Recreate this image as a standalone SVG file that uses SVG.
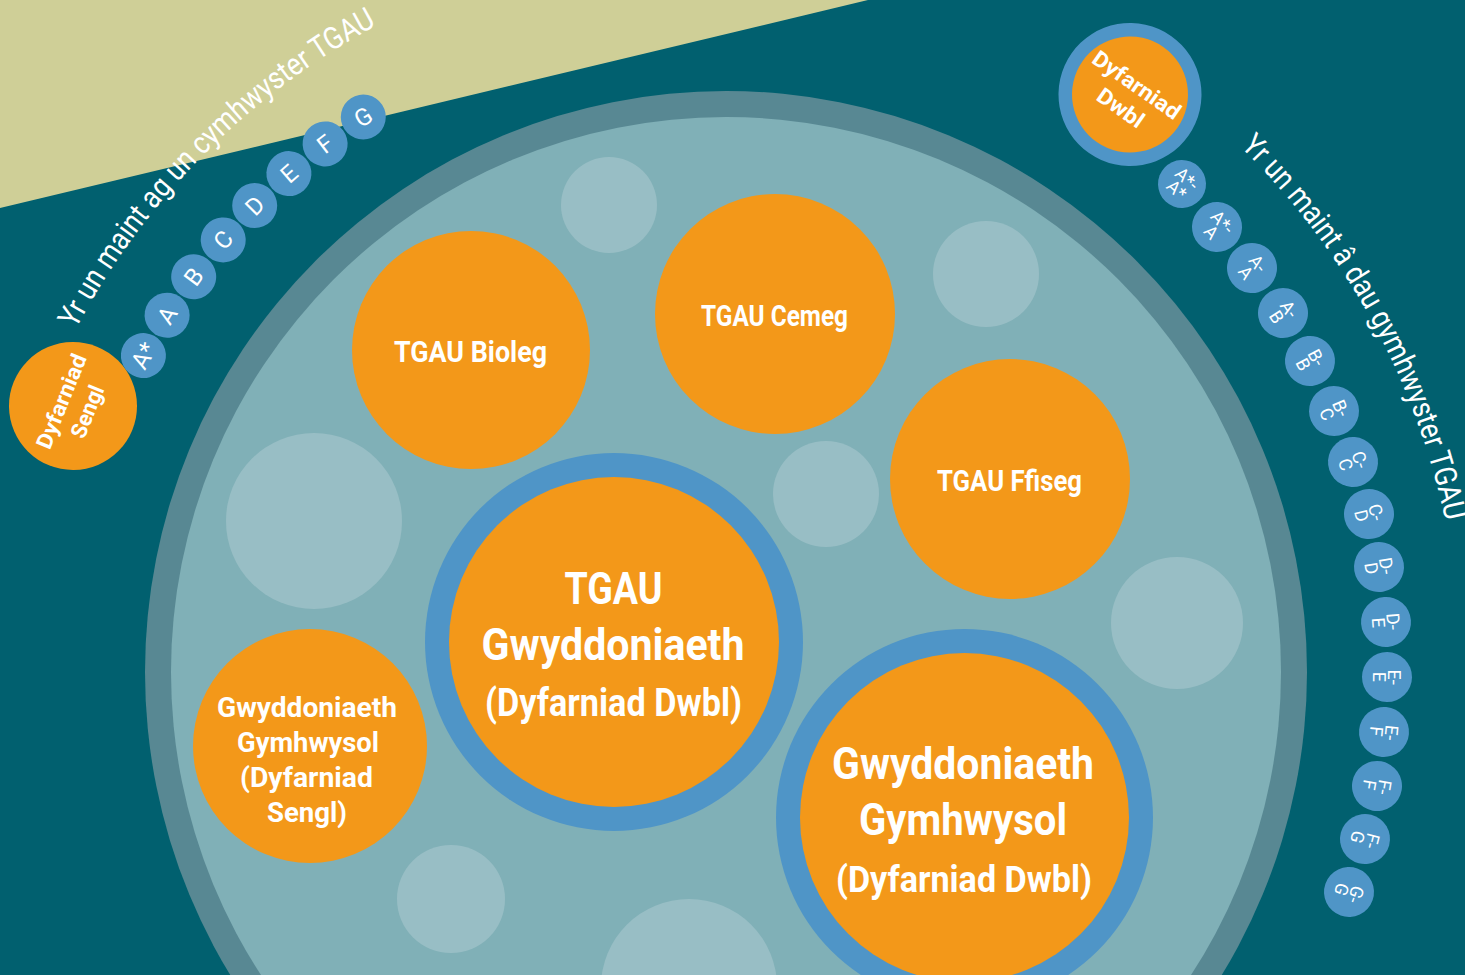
<svg xmlns="http://www.w3.org/2000/svg" width="1465" height="975" viewBox="0 0 1465 975">
<defs>
<style>
.bg{fill:#01606f}
.khaki{fill:#cfcf97}
.ring{fill:#588893}
.inner{fill:#80b0b7}
.bub{fill:#98bec5}
.org{fill:#f39819}
.blu{fill:#4f95c7}
.lbl{font-family:"Roboto","Liberation Sans",sans-serif;font-weight:700;fill:#fff;text-anchor:middle}
.g1{font-family:"Roboto","Liberation Sans",sans-serif;font-weight:400;fill:#fff;text-anchor:middle;font-size:24px}
.g2{font-family:"Roboto","Liberation Sans",sans-serif;font-weight:400;fill:#fff;text-anchor:middle;font-size:18px}
.arc{font-family:"Roboto","Liberation Sans",sans-serif;font-weight:400;fill:#fff;font-size:31px}
</style>
<path id="arcL" d="M75.8,329.2 A735,735 0 0 1 598.4,-51.8"/>
<path id="arcR" d="M1240.3,146.8 A735,735 0 0 1 1449.8,799.6"/>
</defs>

<rect class="bg" x="0" y="0" width="1465" height="975"/>
<polygon class="khaki" points="0,0 868,0 0,208"/>

<g id="big-circle">
<circle class="ring" cx="726" cy="672" r="581"/>
<circle class="inner" cx="726" cy="672" r="555"/>
<circle class="bub" cx="609" cy="205" r="48"/>
<circle class="bub" cx="986" cy="274" r="53"/>
<circle class="bub" cx="314" cy="521" r="88"/>
<circle class="bub" cx="826" cy="494" r="53"/>
<circle class="bub" cx="1177" cy="623" r="66"/>
<circle class="bub" cx="451" cy="899" r="54"/>
<circle class="bub" cx="689" cy="987" r="88"/>
</g>

<g id="connectors"></g>

<g id="tgau-bioleg">
<circle class="org" cx="471" cy="350" r="119"/>
<text class="lbl" x="470.5" y="362" font-size="30" textLength="153" lengthAdjust="spacingAndGlyphs">TGAU Bioleg</text>
</g>
<g id="tgau-cemeg">
<circle class="org" cx="775" cy="314" r="120"/>
<text class="lbl" x="774.5" y="326" font-size="30" textLength="147" lengthAdjust="spacingAndGlyphs">TGAU Cemeg</text>
</g>
<g id="tgau-ffiseg">
<circle class="org" cx="1010" cy="479" r="120"/>
<text class="lbl" x="1009.5" y="491" font-size="30" textLength="145" lengthAdjust="spacingAndGlyphs">TGAU Ffiseg</text>
</g>

<g id="tgau-gwyddoniaeth">
<circle class="blu" cx="614" cy="642" r="189"/>
<circle class="org" cx="614" cy="642" r="165"/>
<text class="lbl" x="613.5" y="604" font-size="44" textLength="98" lengthAdjust="spacingAndGlyphs">TGAU</text>
<text class="lbl" x="613" y="660" font-size="44" textLength="263" lengthAdjust="spacingAndGlyphs">Gwyddoniaeth</text>
<text class="lbl" x="613.5" y="716" font-size="38" textLength="257" lengthAdjust="spacingAndGlyphs">(Dyfarniad Dwbl)</text>
</g>

<g id="gymhwysol-dwbl">
<circle class="blu" cx="964.5" cy="817.5" r="188.5"/>
<circle class="org" cx="964.5" cy="817.5" r="164.5"/>
<text class="lbl" x="963" y="779" font-size="44" textLength="262" lengthAdjust="spacingAndGlyphs">Gwyddoniaeth</text>
<text class="lbl" x="963" y="835" font-size="44" textLength="208" lengthAdjust="spacingAndGlyphs">Gymhwysol</text>
<text class="lbl" x="964" y="892" font-size="36" textLength="256" lengthAdjust="spacingAndGlyphs">(Dyfarniad Dwbl)</text>
</g>

<g id="gymhwysol-sengl">
<circle class="org" cx="310" cy="746" r="117"/>
<text class="lbl" x="307" y="717" font-size="28" textLength="180" lengthAdjust="spacingAndGlyphs">Gwyddoniaeth</text>
<text class="lbl" x="308" y="752" font-size="28" textLength="142" lengthAdjust="spacingAndGlyphs">Gymhwysol</text>
<text class="lbl" x="306.5" y="787" font-size="28" textLength="133" lengthAdjust="spacingAndGlyphs">(Dyfarniad</text>
<text class="lbl" x="307" y="822" font-size="28" textLength="80" lengthAdjust="spacingAndGlyphs">Sengl)</text>
</g>

<g id="dyfarniad-sengl" transform="translate(73,406) rotate(-68)">
<circle class="org" r="64"/>
<text class="lbl" y="-5" font-size="22" textLength="100" lengthAdjust="spacingAndGlyphs">Dyfarniad</text>
<text class="lbl" y="23" font-size="22" textLength="55" lengthAdjust="spacingAndGlyphs">Sengl</text>
</g>

<g id="dyfarniad-dwbl" transform="translate(1130,94.5) rotate(35)">
<circle class="blu" r="71.5"/>
<circle class="org" r="58"/>
<text class="lbl" y="-4" font-size="22" textLength="102" lengthAdjust="spacingAndGlyphs">Dyfarniad</text>
<text class="lbl" y="24" font-size="22" textLength="52" lengthAdjust="spacingAndGlyphs">Dwbl</text>
</g>

<g id="grades-sengl">
<g transform="translate(143.4,355.6) rotate(-61.5)"><circle class="blu" r="22.5"/><text class="g1" y="8.5">A*</text></g>
<g transform="translate(167.1,315.2) rotate(-57.45)"><circle class="blu" r="22.5"/><text class="g1" y="8.5">A</text></g>
<g transform="translate(193.7,276.7) rotate(-53.4)"><circle class="blu" r="22.5"/><text class="g1" y="8.5">B</text></g>
<g transform="translate(223.2,239.9) rotate(-49.35)"><circle class="blu" r="22.5"/><text class="g1" y="8.5">C</text></g>
<g transform="translate(254.7,205.6) rotate(-45.3)"><circle class="blu" r="22.5"/><text class="g1" y="8.5">D</text></g>
<g transform="translate(288.9,173.6) rotate(-41.25)"><circle class="blu" r="22.5"/><text class="g1" y="8.5">E</text></g>
<g transform="translate(325.1,143.9) rotate(-37.2)"><circle class="blu" r="22.5"/><text class="g1" y="8.5">F</text></g>
<g transform="translate(363.3,117.0) rotate(-33.15)"><circle class="blu" r="22.5"/><text class="g1" y="8.5">G</text></g>
</g>

<g id="grades-dwbl">
<g transform="translate(1182,184) rotate(43)"><circle class="blu" r="24"/><text class="g2" y="-1">A*-</text><text class="g2" y="14">A*</text></g>
<g transform="translate(1217,227) rotate(47.8)"><circle class="blu" r="25"/><text class="g2" y="-1">A*-</text><text class="g2" y="14">A</text></g>
<g transform="translate(1252,268) rotate(52.5)"><circle class="blu" r="25"/><text class="g2" y="-1">A-</text><text class="g2" y="14">A</text></g>
<g transform="translate(1283,313) rotate(57.2)"><circle class="blu" r="25"/><text class="g2" y="-1">A-</text><text class="g2" y="14">B</text></g>
<g transform="translate(1310,361) rotate(62)"><circle class="blu" r="25"/><text class="g2" y="-1">B-</text><text class="g2" y="14">B</text></g>
<g transform="translate(1334,411) rotate(66.8)"><circle class="blu" r="25"/><text class="g2" y="-1">B-</text><text class="g2" y="14">C</text></g>
<g transform="translate(1353,462) rotate(71.5)"><circle class="blu" r="25"/><text class="g2" y="-1">C-</text><text class="g2" y="14">C</text></g>
<g transform="translate(1369,514) rotate(76.2)"><circle class="blu" r="25"/><text class="g2" y="-1">C-</text><text class="g2" y="14">D</text></g>
<g transform="translate(1379,567) rotate(80.9)"><circle class="blu" r="25"/><text class="g2" y="-1">D-</text><text class="g2" y="14">D</text></g>
<g transform="translate(1386,622) rotate(85.7)"><circle class="blu" r="25"/><text class="g2" y="-1">D-</text><text class="g2" y="14">E</text></g>
<g transform="translate(1387,677) rotate(90.4)"><circle class="blu" r="25"/><text class="g2" y="-1">E-</text><text class="g2" y="14">E</text></g>
<g transform="translate(1384,732) rotate(95.2)"><circle class="blu" r="25"/><text class="g2" y="-1">E-</text><text class="g2" y="14">F</text></g>
<g transform="translate(1377,786) rotate(99.9)"><circle class="blu" r="25"/><text class="g2" y="-1">F-</text><text class="g2" y="14">F</text></g>
<g transform="translate(1365,839) rotate(104.6)"><circle class="blu" r="25"/><text class="g2" y="-1">F-</text><text class="g2" y="14">G</text></g>
<g transform="translate(1349,892) rotate(109.5)"><circle class="blu" r="25"/><text class="g2" y="-1">G-</text><text class="g2" y="14">G</text></g>
</g>

<g id="caption-sengl">
<text class="arc"><textPath href="#arcL" textLength="434" lengthAdjust="spacingAndGlyphs">Yr un maint ag un cymhwyster TGAU</textPath></text>
</g>
<g id="caption-dwbl">
<text class="arc"><textPath href="#arcR" textLength="433" lengthAdjust="spacingAndGlyphs">Yr un maint â dau gymhwyster TGAU</textPath></text>
</g>
</svg>
